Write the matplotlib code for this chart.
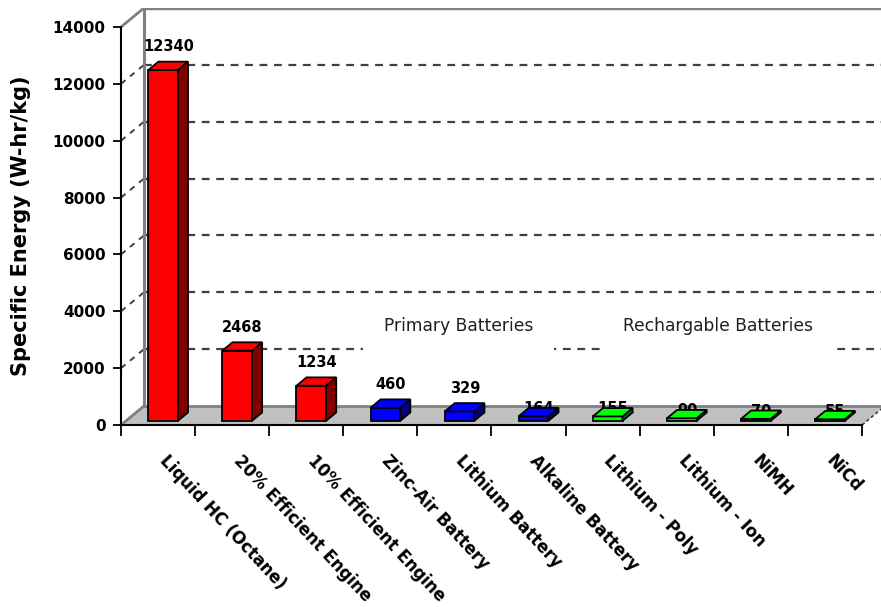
import numpy as np
import matplotlib
matplotlib.use('Agg')
import matplotlib.pyplot as plt
import matplotlib.transforms as mtransforms
from matplotlib.patches import Polygon

# data
categories = ['Liquid HC (Octane)', '20% Efficient Engine', '10% Efficient Engine',
              'Zinc-Air Battery', 'Lithium Battery', 'Alkaline Battery',
              'Lithium - Poly', 'Lithium - Ion', 'NiMH', 'NiCd']
values = [12340, 2468, 1234, 460, 329, 164, 155, 90, 70, 55]
groups = ['fuel', 'fuel', 'fuel', 'primary', 'primary', 'primary',
          'rechargeable', 'rechargeable', 'rechargeable', 'rechargeable']
group_titles = {'primary': 'Primary Batteries', 'rechargeable': 'Rechargable Batteries'}
y_ticks = [0, 2000, 4000, 6000, 8000, 10000, 12000, 14000]

# colours (front, side)
face_colors = {'fuel': ('#FF0000', '#800000'),
               'primary': ('#0000FF', '#000080'),
               'rechargeable': ('#00FF00', '#008000')}

# pseudo-3D geometry, in data units
DX = 0.31      # full depth shift along x
DY = 668       # full depth shift along y
D0, D1 = 0.22, 0.66   # bar depth range
HALF_W = 0.2
YMAX = 14000

fig = plt.figure(figsize=(8.81, 6.07), dpi=100)
ax = fig.add_axes([121 / 881, 182 / 607, 10.31 * 74.1 / 881, 417 / 607])
ax.set_xlim(0, 10 + DX)
ax.set_ylim(0, YMAX + DY)
n = len(categories)


def proj(x, v, d):
    return (x + d * DX, v + d * DY)


# floor
floor = Polygon([proj(0, 0, 0), proj(n, 0, 0), proj(n, 0, 1), proj(0, 0, 1)],
                closed=True, facecolor='#C0C0C0', edgecolor='none', zorder=1)
ax.add_patch(floor)
ax.plot(*zip(proj(0, 0, 1), proj(n, 0, 1)), color='#808080', lw=2, zorder=1.5)
ax.plot(*zip(proj(0, 0, 0), proj(0, 0, 1)), color='#808080', lw=2, zorder=1.5)
ax.plot(*zip(proj(n, 0, 0), proj(n, 0, 1)), color='#404040', lw=1.2,
        ls=(0, (2, 1.5)), zorder=1.5)

# walls
ax.plot(*zip(proj(0, 0, 1), proj(0, YMAX, 1)), color='#808080', lw=2.2, zorder=1.5)
ax.plot(*zip(proj(0, YMAX, 1), proj(n + 1, YMAX, 1)), color='#808080', lw=2.5, zorder=1.5)
ax.plot(*zip(proj(0, YMAX, 0), proj(0, YMAX, 1)), color='#808080', lw=2, zorder=1.5)

# gridlines on back and left wall
for v in y_ticks[1:-1]:
    ax.plot(*zip(proj(0, v, 1), proj(n + 1, v, 1)), color='#404040', lw=1.6,
            ls=(0, (3.5, 3)), zorder=1.2)
    ax.plot(*zip(proj(0, v, 0), proj(0, v, 1)), color='#404040', lw=1.4,
            ls=(0, (3, 3)), zorder=1.2)

# group titles with white box covering the gridlines
for g, title in group_titles.items():
    idx = [i for i, gg in enumerate(groups) if gg == g]
    xc = (idx[0] + idx[-1] + 1) / 2 + 0.5 * DX - 0.1
    ax.text(xc, 3480, title, ha='center', va='center', fontsize=12.3,
            family='DejaVu Sans', color='#202020', zorder=2,
            bbox=dict(boxstyle='square,pad=1.2', facecolor='white', edgecolor='none'))

# bars
for i, (v, g) in enumerate(zip(values, groups)):
    c = i + 0.5
    front, side = face_colors[g]
    x0, x1 = c - HALF_W, c + HALF_W
    # value label, sits under the bar so the tiny bars cover it
    pad = 660 if v > 300 else 120
    lx, lv = proj(c, v + pad, 0.45)
    ax.text(lx, lv, f'{v}', ha='center', va='center', fontsize=10.5,
            fontweight='bold', color='black', zorder=3)
    kw = dict(closed=True, edgecolor='black', lw=1.3, joinstyle='miter', zorder=4 + i)
    ax.add_patch(Polygon([proj(x0, 0, D0), proj(x1, 0, D0), proj(x1, v, D0), proj(x0, v, D0)],
                         facecolor=front, **kw))
    ax.add_patch(Polygon([proj(x1, 0, D0), proj(x1, 0, D1), proj(x1, v, D1), proj(x1, v, D0)],
                         facecolor=side, **kw))
    ax.add_patch(Polygon([proj(x0, v, D0), proj(x1, v, D0), proj(x1, v, D1), proj(x0, v, D1)],
                         facecolor=front, **kw))

# axes
for s in ['top', 'right']:
    ax.spines[s].set_visible(False)
ax.spines['left'].set_bounds(0, YMAX)
ax.spines['bottom'].set_bounds(0, n)
ax.spines['left'].set_linewidth(1.5)
ax.spines['bottom'].set_linewidth(1.5)
ax.spines['left'].set_zorder(20)
ax.spines['bottom'].set_zorder(20)

ax.set_yticks(y_ticks)
ax.set_yticklabels([str(t) for t in y_ticks], fontsize=11, fontweight='bold')
ax.tick_params(axis='y', length=6, width=1.3, pad=5)

ax.set_xticks(np.arange(n + 1))
ax.set_xticklabels([])
ax.tick_params(axis='x', which='major', length=8, width=1.3)
ax.set_xticks(np.arange(n) + 0.5, minor=True)
ax.set_xticklabels(categories, minor=True, rotation=-47, ha='left', va='top',
                   rotation_mode='anchor', fontsize=12, fontweight='bold')
ax.tick_params(axis='x', which='minor', length=0, pad=19)
shift = mtransforms.ScaledTranslation(11 / 100, 0, fig.dpi_scale_trans)
for lab in ax.get_xticklabels(minor=True):
    lab.set_transform(lab.get_transform() + shift)

ax.set_ylabel('Specific Energy (W-hr/kg)', fontsize=15, fontweight='bold')
ax.yaxis.set_label_coords(-0.118, 0.5 * YMAX / (YMAX + DY))

fig.savefig('out.png', dpi=100)
